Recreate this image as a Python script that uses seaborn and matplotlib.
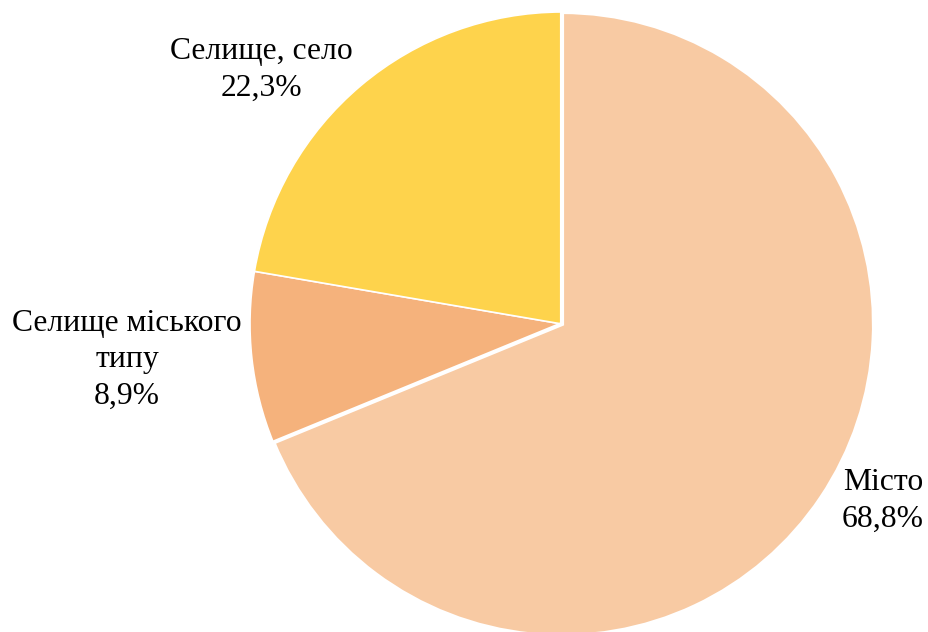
import matplotlib
matplotlib.use("Agg")
import matplotlib.pyplot as plt
import seaborn as sns

# Data
categories = ["Місто", "Селище міського\nтипу", "Селище, село"]
shares = [68.8, 8.9, 22.3]
colors = ["#F8CAA3", "#F5B27C", "#FED34C"]

sns.set_theme(style="white")
plt.rcParams["font.family"] = ["Liberation Serif", "DejaVu Serif"]

fig = plt.figure(figsize=(9.29, 6.32), dpi=100)
ax = fig.add_axes([0, 0, 1, 1])

wedges, _ = ax.pie(
    shares,
    colors=colors,
    startangle=90,
    counterclock=False,
    center=(562, 308),
    radius=312,
    wedgeprops=dict(edgecolor="white", linewidth=1.2),
    frame=True,
)
# the large slice has a slightly thicker white outline
wedges[0].set_linewidth(3)
wedges[0].set_zorder(wedges[0].get_zorder() + 1)

# label positions (pixels, figure coords from bottom-left)
label_pos = [(883, 131), (127, 272), (261, 562)]
for name, val, (x, y) in zip(categories, shares, label_pos):
    txt = f"{name}\n{val:.1f}%".replace(".", ",")
    ax.text(x, y, txt, ha="center", va="center", fontsize=22.8,
            color="black", linespacing=1.32)

ax.set_xlim(0, 929)
ax.set_ylim(0, 632)
ax.set_aspect("auto")
ax.axis("off")

fig.savefig("out.png", dpi=100)
